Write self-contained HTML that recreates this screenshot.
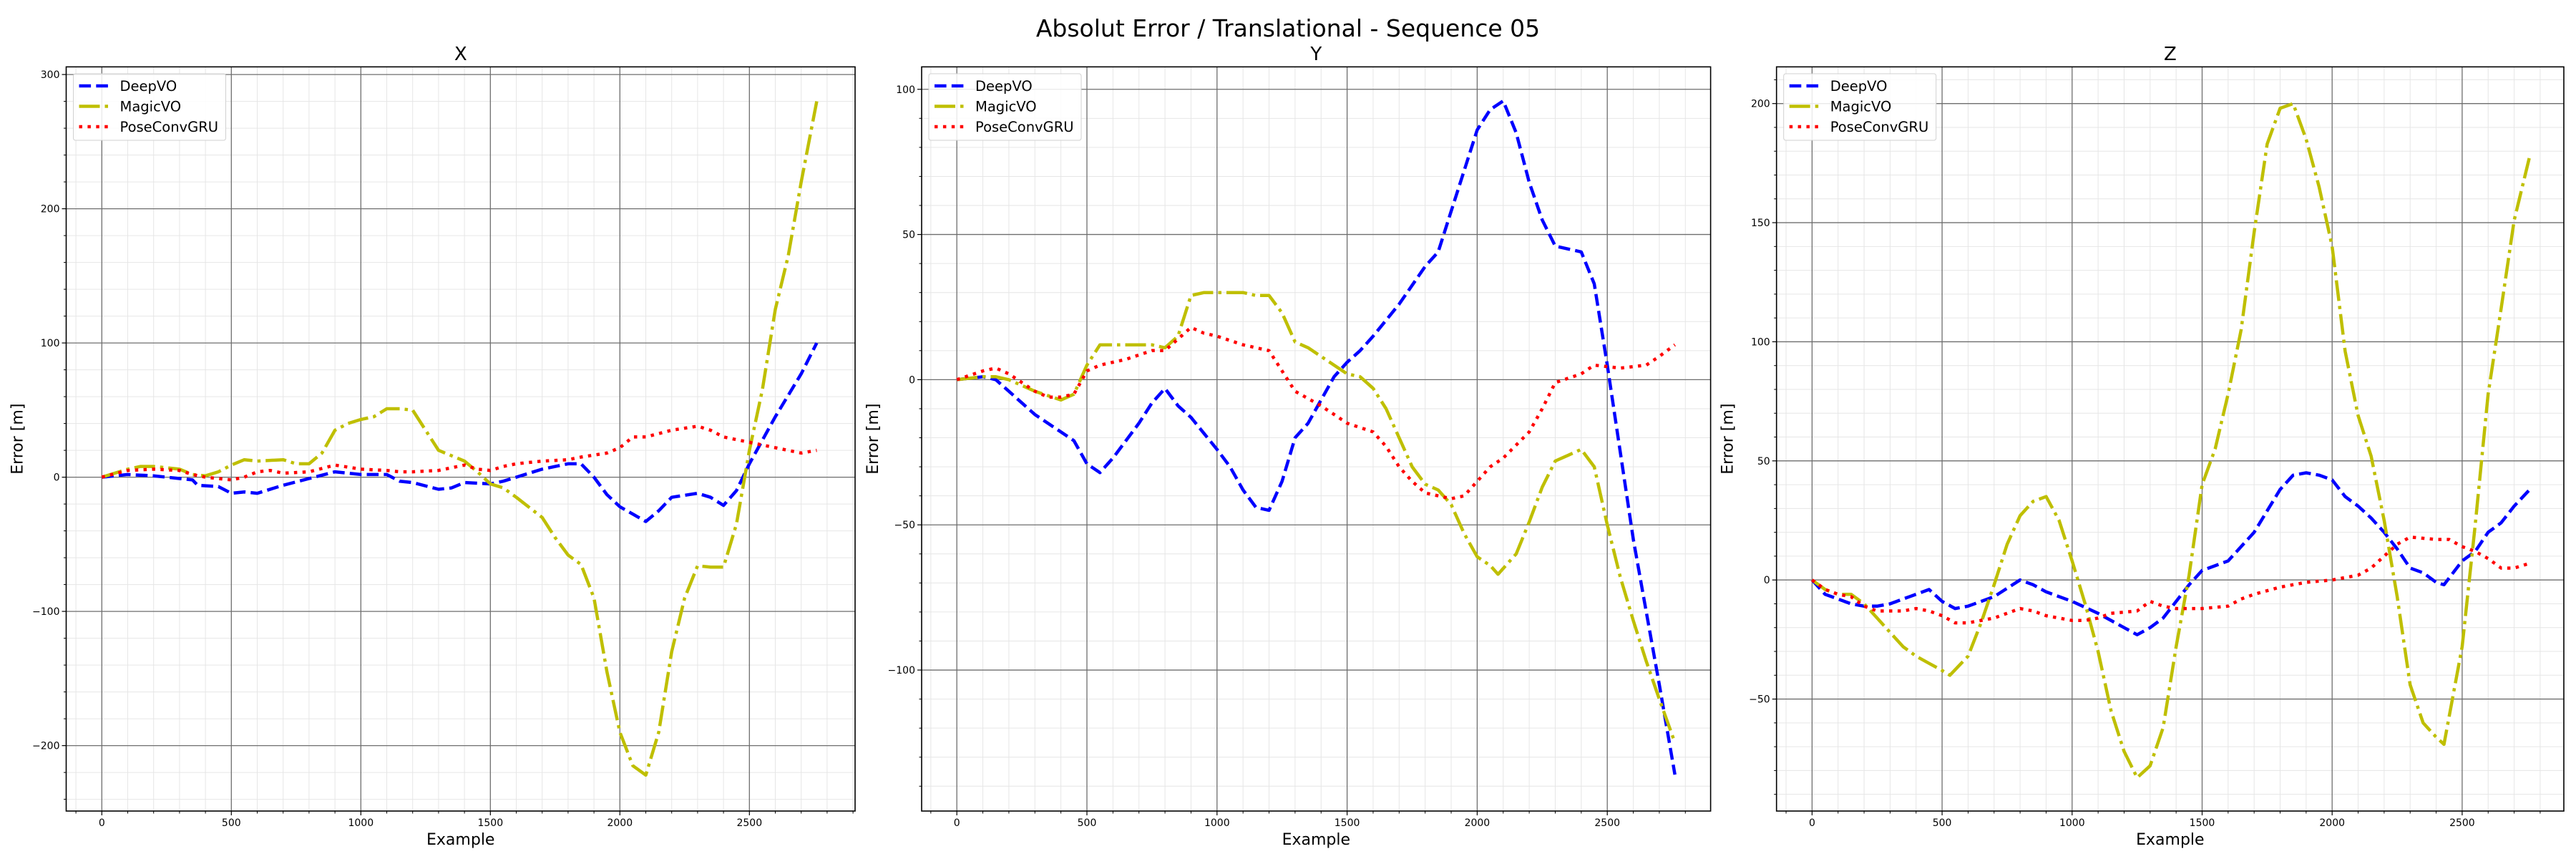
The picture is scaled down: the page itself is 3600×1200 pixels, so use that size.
<!DOCTYPE html>
<html><head><meta charset="utf-8">
<style>
html,body{margin:0;padding:0;background:#fff;}
svg{display:block;font-family:"DejaVu Sans","Liberation Sans",sans-serif;}
</style></head>
<body>
<svg id="fig" width="3600" height="1200" xmlns="http://www.w3.org/2000/svg">
<rect width="3600" height="1200" fill="#fff"/>
<text x="1800" y="51" font-size="33" text-anchor="middle">Absolut Error / Translational - Sequence 05</text>
</svg>
<script>
// ---- data ----
const xX_deep = [0,100,200,300,350,370,450,500,550,600,700,800,900,1000,1100,1150,1200,1300,1350,1400,1500,1550,1600,1700,1800,1850,1900,1950,2000,2100,2150,2200,2300,2350,2400,2450,2500,2600,2700,2760];
const yX_deep = [0,2,1,-1,-2,-6,-7,-12,-11,-12,-6,-1,4,2,2,-3,-4,-9,-8,-4,-5,-3,0,6,10,10,0,-13,-22,-33,-25,-15,-12,-15,-21,-10,10,45,77,100];
const xX_magic = [0,100,150,200,300,350,400,450,500,550,600,700,750,800,850,900,950,1000,1050,1100,1150,1200,1250,1300,1350,1400,1450,1500,1550,1600,1700,1750,1800,1850,1900,1950,2000,2050,2100,2150,2200,2250,2300,2350,2400,2450,2500,2550,2600,2650,2700,2760];
const yX_magic = [0,6,8,8,6,2,1,4,9,13,12,13,10,10,18,35,40,43,45,51,51,50,35,20,16,12,4,-5,-8,-15,-30,-45,-58,-65,-90,-145,-190,-215,-222,-190,-130,-90,-66,-67,-67,-35,20,65,125,165,220,280];
const xX_pose = [0,100,200,300,350,400,500,550,600,650,700,800,900,1000,1100,1150,1200,1300,1400,1450,1500,1550,1600,1700,1800,1850,1950,2000,2050,2100,2200,2300,2350,2400,2500,2600,2700,2760];
const yX_pose = [0,5,6,5,2,0,-2,0,4,5,3,4,9,6,5,4,4,5,9,6,5,8,10,12,13,15,18,22,30,30,35,38,35,30,26,22,18,20];

const xY_deep = [0,100,150,200,300,400,450,500,550,600,700,750,800,850,900,1000,1050,1100,1150,1200,1250,1300,1350,1400,1450,1500,1550,1600,1700,1800,1850,1900,1950,2000,2050,2100,2150,2200,2250,2300,2400,2450,2500,2550,2600,2650,2700,2760];
const yY_deep = [0,1,0,-4,-12,-18,-21,-29,-32,-27,-15,-8,-3,-9,-13,-24,-30,-38,-44,-45,-35,-20,-15,-7,1,6,10,15,26,39,44,58,72,86,93,96,85,68,55,46,44,33,5,-25,-55,-80,-105,-136];
const xY_magic = [0,100,150,200,300,400,450,500,550,650,750,800,850,900,950,1050,1100,1150,1200,1250,1300,1350,1400,1450,1500,1550,1600,1650,1700,1750,1800,1850,1900,1950,2000,2050,2080,2150,2200,2250,2300,2350,2400,2450,2500,2550,2600,2650,2700,2760];
const yY_magic = [0,1,1,0,-4,-7,-5,5,12,12,12,11,15,29,30,30,30,29,29,23,13,11,8,5,2,1,-3,-10,-20,-30,-36,-38,-43,-53,-61,-64,-67,-60,-49,-37,-28,-26,-24,-30,-50,-68,-83,-97,-110,-125];
const xY_pose = [0,100,150,200,300,350,400,450,500,550,650,750,800,850,900,950,1000,1100,1200,1250,1300,1400,1500,1600,1650,1700,1750,1800,1900,1950,2000,2050,2100,2200,2250,2300,2400,2450,2550,2650,2700,2760];
const yY_pose = [0,3,4,2,-4,-6,-6,-5,3,5,7,10,10,14,18,16,15,12,10,3,-4,-9,-15,-18,-23,-30,-35,-39,-41,-40,-35,-30,-27,-18,-10,-1,2,5,4,5,8,12];

const xZ_deep = [0,50,100,150,200,250,300,350,400,450,500,550,600,700,800,850,900,1000,1100,1200,1250,1300,1350,1400,1450,1500,1600,1700,1800,1850,1900,1950,2000,2050,2100,2150,2200,2250,2300,2350,2400,2430,2500,2550,2600,2650,2700,2760];
const yZ_deep = [0,-6,-8,-10,-11,-11,-10,-8,-6,-4,-9,-12,-11,-7,0,-2,-5,-9,-14,-20,-23,-20,-16,-9,-2,4,8,20,38,44,45,44,42,35,31,26,20,13,5,3,-1,-2,8,12,20,24,31,38];
const xZ_magic = [0,50,100,150,200,250,300,350,400,450,500,530,600,650,700,750,800,850,900,950,1000,1050,1100,1150,1200,1250,1300,1350,1400,1450,1500,1550,1600,1650,1700,1750,1800,1850,1900,1950,2000,2050,2100,2150,2200,2250,2300,2350,2400,2430,2500,2550,2600,2650,2700,2760];
const yZ_magic = [0,-4,-6,-6,-10,-16,-22,-28,-32,-35,-38,-40,-32,-18,-2,15,27,33,35,25,8,-10,-30,-55,-72,-83,-78,-62,-28,2,40,55,78,105,146,183,198,200,185,165,140,96,69,52,25,-7,-44,-60,-66,-69,-28,23,78,114,151,178];
const xZ_pose = [0,50,100,150,200,250,300,350,400,450,500,550,600,700,800,850,900,1000,1050,1100,1150,1250,1300,1350,1400,1500,1600,1650,1700,1800,1900,2000,2100,2150,2200,2250,2300,2400,2450,2500,2550,2600,2650,2700,2760];
const yZ_pose = [0,-4,-6,-7,-11,-13,-13,-13,-12,-13,-15,-18,-18,-16,-12,-13,-15,-17,-17,-16,-14,-13,-9,-11,-12,-12,-11,-8,-6,-3,-1,0,2,5,10,15,18,17,17,14,12,9,5,5,7];

const xTicks = [0,500,1000,1500,2000,2500];
const ticksX_panel = [-200,-100,0,100,200,300];
const ticksY_panel = [-100,-50,0,50,100];
const ticksZ_panel = [-50,0,50,100,150,200];
const legendLabels = ['DeepVO','MagicVO','PoseConvGRU'];

const NS='http://www.w3.org/2000/svg';
const svg=document.getElementById('fig');
function mk(tag,attrs,parent){const e=document.createElementNS(NS,tag);for(const k in attrs)e.setAttribute(k,attrs[k]);(parent||svg).appendChild(e);return e;}

const styles=[
 {color:'#0000ff',dash:'16.6,7.2'},
 {color:'#bfbf00',dash:'29,7,4.5,7'},
 {color:'#ff0000',dash:'4.5,7.4'}
];

function panel(cfg){
  const g=mk('g',{});
  
  
  const L=cfg.left,R=cfg.right,T=93.4,B=1133;
  const sx=v=>cfg.x0+v*cfg.kx;
  const sy=v=>cfg.y0-v*cfg.ky;
  for(let v=-100;v<=2900;v+=100){const px=sx(v);if(px>L&&px<R&&v%500!==0){
    const l=mk('line',{x1:px,x2:px,y1:T,y2:B,stroke:'#e6e6e6','stroke-width':1},g);
    
    const t=mk('line',{x1:px,x2:px,y1:B,y2:B+3.5,stroke:'#000','stroke-width':1},g);
    }}
  for(let v=-400;v<=400;v+=cfg.minor){const py=sy(v);if(py>T&&py<B&&Math.abs(v%cfg.major)>1e-9){
    const l=mk('line',{x1:L,x2:R,y1:py,y2:py,stroke:'#e6e6e6','stroke-width':1},g);
    
    const t=mk('line',{x1:L-3.5,x2:L,y1:py,y2:py,stroke:'#000','stroke-width':1},g);
    }}
  xTicks.forEach(v=>{const px=sx(v);
    const l=mk('line',{x1:px,x2:px,y1:T,y2:B,stroke:'#6e6e6e','stroke-width':1.3},g);
    
    const t=mk('line',{x1:px,x2:px,y1:B,y2:B+6,stroke:'#000','stroke-width':1.2},g);
    
    const tx=mk('text',{x:px,y:B+21,'font-size':14,'text-anchor':'middle'},g);tx.textContent=v;
    });
  cfg.yticks.forEach(v=>{const py=sy(v);
    const l=mk('line',{x1:L,x2:R,y1:py,y2:py,stroke:'#6e6e6e','stroke-width':1.3},g);
    
    const t=mk('line',{x1:L-6,x2:L,y1:py,y2:py,stroke:'#000','stroke-width':1.2},g);
    
    const tx=mk('text',{x:L-9,y:py+5,'font-size':14,'text-anchor':'end'},g);tx.textContent=(v<0?'\u2212'+(-v):v);
    });
  const clip=mk('clipPath',{id:'clip'+cfg.name},g);
  mk('rect',{x:L,y:T,width:R-L,height:B-T},clip);
  cfg.series.forEach((s,i)=>{
    const pts=s[0].map((x,j)=>sx(x).toFixed(1)+','+sy(s[1][j]).toFixed(1)).join(' ');
    const p=mk('polyline',{points:pts,fill:'none',stroke:styles[i].color,'stroke-width':4.5,'stroke-dasharray':styles[i].dash,'stroke-linejoin':'round','clip-path':'url(#clip'+cfg.name+')'},g);
    
    
  });
  const fr=mk('rect',{x:L,y:T,width:R-L,height:B-T,fill:'none',stroke:'#000','stroke-width':1.6},g);
  
  const ti=mk('text',{x:(L+R)/2,y:84,'font-size':26,'text-anchor':'middle'},g);ti.textContent=cfg.name;
  
  const xl=mk('text',{x:(L+R)/2,y:1180,'font-size':22,'text-anchor':'middle'},g);xl.textContent='Example';
  
  const yl=mk('text',{x:0,y:0,'font-size':22,'text-anchor':'middle',transform:'translate('+(L-61)+','+((T+B)/2)+') rotate(-90)'},g);yl.textContent='Error [m]';
  
  const lg=mk('g',{},g);
  
  const lx=L+10;
  mk('rect',{x:lx,y:103,width:213,height:93,rx:3,fill:'#fff','fill-opacity':0.85,stroke:'#d0d0d0','stroke-width':1},lg);
  legendLabels.forEach((lab,i)=>{const yy=120+i*28.5;
    const ln=mk('line',{x1:lx+8,x2:lx+50,y1:yy,y2:yy,stroke:styles[i].color,'stroke-width':4.5,'stroke-dasharray':styles[i].dash},lg);
    
    const t=mk('text',{x:lx+65,y:yy+7,'font-size':19.5},lg);t.textContent=lab;
    });
}

panel({name:'X',left:92.5,right:1195,x0:142.3,kx:0.362,y0:666.6,ky:1.875,minor:20,major:100,yticks:ticksX_panel,
  series:[[xX_deep,yX_deep],[xX_magic,yX_magic],[xX_pose,yX_pose]]});
panel({name:'Y',left:1288,right:2390.6,x0:1337.2,kx:0.3636,y0:530.4,ky:4.0565,minor:10,major:50,yticks:ticksY_panel,
  series:[[xY_deep,yY_deep],[xY_magic,yY_magic],[xY_pose,yY_pose]]});
panel({name:'Z',left:2482.7,right:3583,x0:2532.4,kx:0.3634,y0:810.2,ky:3.3276,minor:10,major:50,yticks:ticksZ_panel,
  series:[[xZ_deep,yZ_deep],[xZ_magic,yZ_magic],[xZ_pose,yZ_pose]]});
</script>
</body></html>
